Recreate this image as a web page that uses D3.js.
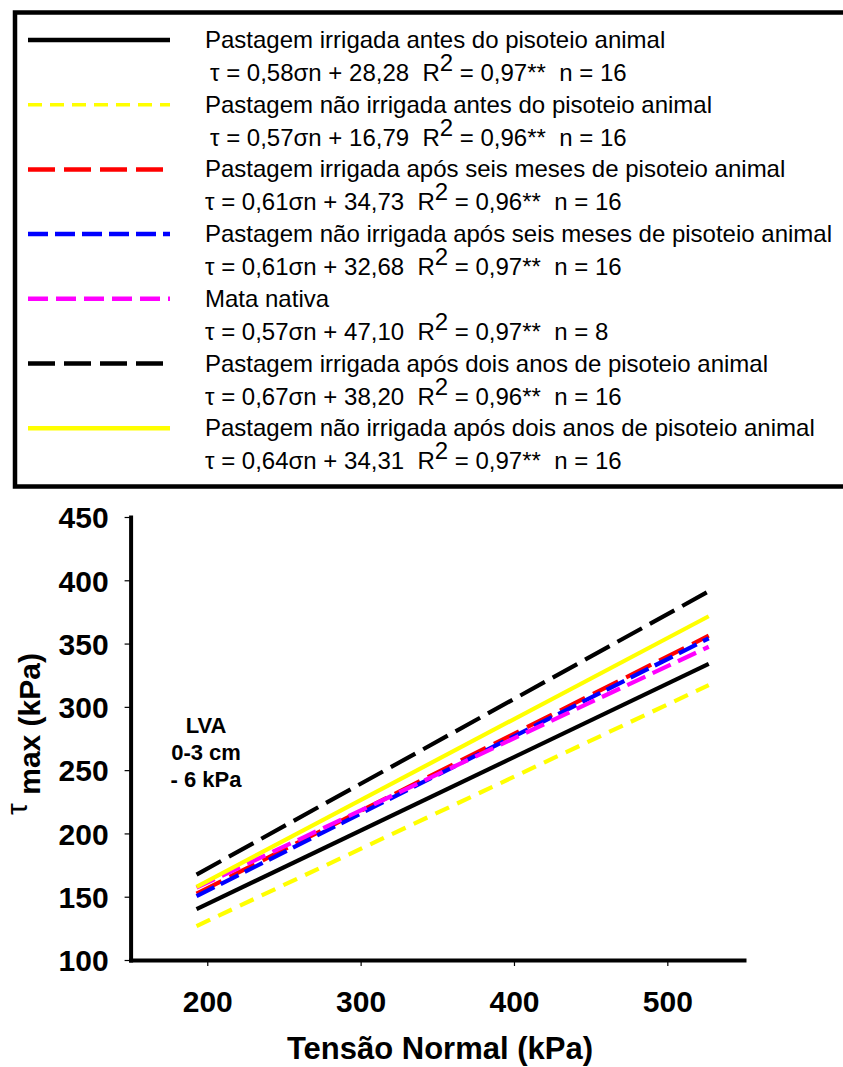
<!DOCTYPE html>
<html>
<head>
<meta charset="utf-8">
<script src="https://cdn.jsdelivr.net/npm/d3@7"></script>
<style>
  body { margin: 0; background: #fff; }
  text { font-family: "Liberation Sans", Arial, Helvetica, sans-serif; }
</style>
</head>
<body>
<svg id="chart" width="843" height="1067"></svg>
<script>
// Regression fits of maximum shear stress vs normal stress (LVA, 0-3 cm, -6 kPa)
const seriesNames = [
  "Pastagem irrigada antes do pisoteio animal",
  "Pastagem não irrigada antes do pisoteio animal",
  "Pastagem irrigada após seis meses de pisoteio animal",
  "Pastagem não irrigada após seis meses de pisoteio animal",
  "Mata nativa",
  "Pastagem irrigada após dois anos de pisoteio animal",
  "Pastagem não irrigada após dois anos de pisoteio animal"
];
const slopes     = [0.58, 0.57, 0.61, 0.61, 0.57, 0.67, 0.64];
const intercepts = [28.28, 16.79, 34.73, 32.68, 47.10, 38.20, 34.31];
const r2Values   = [0.97, 0.96, 0.96, 0.97, 0.97, 0.96, 0.97];
const nValues    = [16, 16, 16, 16, 8, 16, 16];
const sigmaRange = [193, 527];           // normal stress range covered by the fits (kPa)
const xTicks = [200, 300, 400, 500];
const yTicks = [100, 150, 200, 250, 300, 350, 400, 450];

// Line appearance per series
const colors   = ["#000000", "#ffff00", "#ff0000", "#0000ff", "#ff00ff", "#000000", "#ffff00"];
const dashes   = [null, "15,9", "28,9", "20,7", "20,8", "28,9", null];
const legendDashes = [null, "14,8", "27,9", "20,7", "20,8", "27,9", null];
const legendWidths = [4.5, 3.5, 4.5, 4.5, 4.5, 4.5, 4.5];

const svg = d3.select("#chart");
const fmt = v => v.toFixed(2).replace(".", ",");

// ---------- Legend ----------
svg.append("rect")
  .attr("x", 15).attr("y", 12.5)
  .attr("width", 860).attr("height", 474)
  .attr("fill", "none").attr("stroke", "#000").attr("stroke-width", 4.5);

const rowY = i => 40 + i * 64.7;
const leg = svg.append("g");
seriesNames.forEach((name, i) => {
  const yy = rowY(i);
  leg.append("line")
    .attr("x1", 28).attr("x2", 170).attr("y1", yy).attr("y2", yy)
    .attr("stroke", colors[i]).attr("stroke-width", legendWidths[i])
    .attr("stroke-dasharray", legendDashes[i]);
  leg.append("text")
    .attr("x", 205).attr("y", yy + 8)
    .attr("font-size", 24).attr("fill", "#000")
    .text(name);
  const eq = leg.append("text")
    .attr("x", i < 2 ? 210 : 205).attr("y", yy + 41)
    .attr("font-size", 24).attr("fill", "#000")
    .style("white-space", "pre");
  eq.append("tspan").text(`τ = ${fmt(slopes[i])}σn + ${fmt(intercepts[i])}  R`);
  eq.append("tspan").attr("dy", -10).text("2");
  eq.append("tspan").attr("dy", 10).text(` = ${fmt(r2Values[i])}**  n = ${nValues[i]}`);
});

// ---------- Plot ----------
const x = d3.scaleLinear().domain([150, 550]).range([130.6, 744]);
const y = d3.scaleLinear().domain([100, 450]).range([960, 517]);

const xAxis = svg.append("g")
  .attr("transform", `translate(0,${y(100)})`)
  .call(d3.axisBottom(x).tickValues(xTicks).tickSize(6).tickSizeOuter(0).tickPadding(25));
const yAxis = svg.append("g")
  .attr("transform", `translate(${x(150)},0)`)
  .call(d3.axisLeft(y).tickValues(yTicks).tickSize(6).tickSizeOuter(0).tickPadding(16));

[xAxis, yAxis].forEach(ax => {
  ax.select(".domain").attr("stroke", "#000").attr("stroke-width", 4).attr("stroke-linecap", "square");
  ax.selectAll(".tick line").attr("stroke", "#000").attr("stroke-width", 1.2);
  ax.selectAll(".tick text")
    .attr("font-size", 30).attr("font-weight", "bold").attr("fill", "#000")
    .attr("font-family", "'Liberation Sans', Arial, sans-serif");
});
yAxis.selectAll(".tick text").attr("dy", "0.36em");

// Fitted lines  tau = a * sigma + b
const line = d3.line().x(d => x(d[0])).y(d => y(d[1]));
seriesNames.forEach((name, i) => {
  const pts = sigmaRange.map(s => [s, slopes[i] * s + intercepts[i]]);
  svg.append("path")
    .attr("d", line(pts))
    .attr("fill", "none")
    .attr("stroke", colors[i])
    .attr("stroke-width", 4.2)
    .attr("stroke-dasharray", dashes[i]);
});

// Site annotation
const note = svg.append("text")
  .attr("font-size", 22).attr("font-weight", "bold").attr("text-anchor", "middle");
["LVA", "0-3 cm", "- 6 kPa"].forEach((t, k) => {
  note.append("tspan").attr("x", 206).attr("y", 733 + k * 27).text(t);
});

// Axis titles
svg.append("text")
  .attr("x", 440).attr("y", 1059)
  .attr("text-anchor", "middle")
  .attr("font-size", 31).attr("font-weight", "bold")
  .text("Tensão Normal (kPa)");

const yt = svg.append("text")
  .attr("transform", `translate(40,734) rotate(-90)`)
  .attr("text-anchor", "middle")
  .attr("font-size", 30).attr("font-weight", "bold")
  .style("white-space", "pre");
yt.append("tspan").attr("font-weight", "normal").attr("dy", -13).text("τ ");
yt.append("tspan").attr("dy", 13).text("max (kPa)");
</script>
</body>
</html>
